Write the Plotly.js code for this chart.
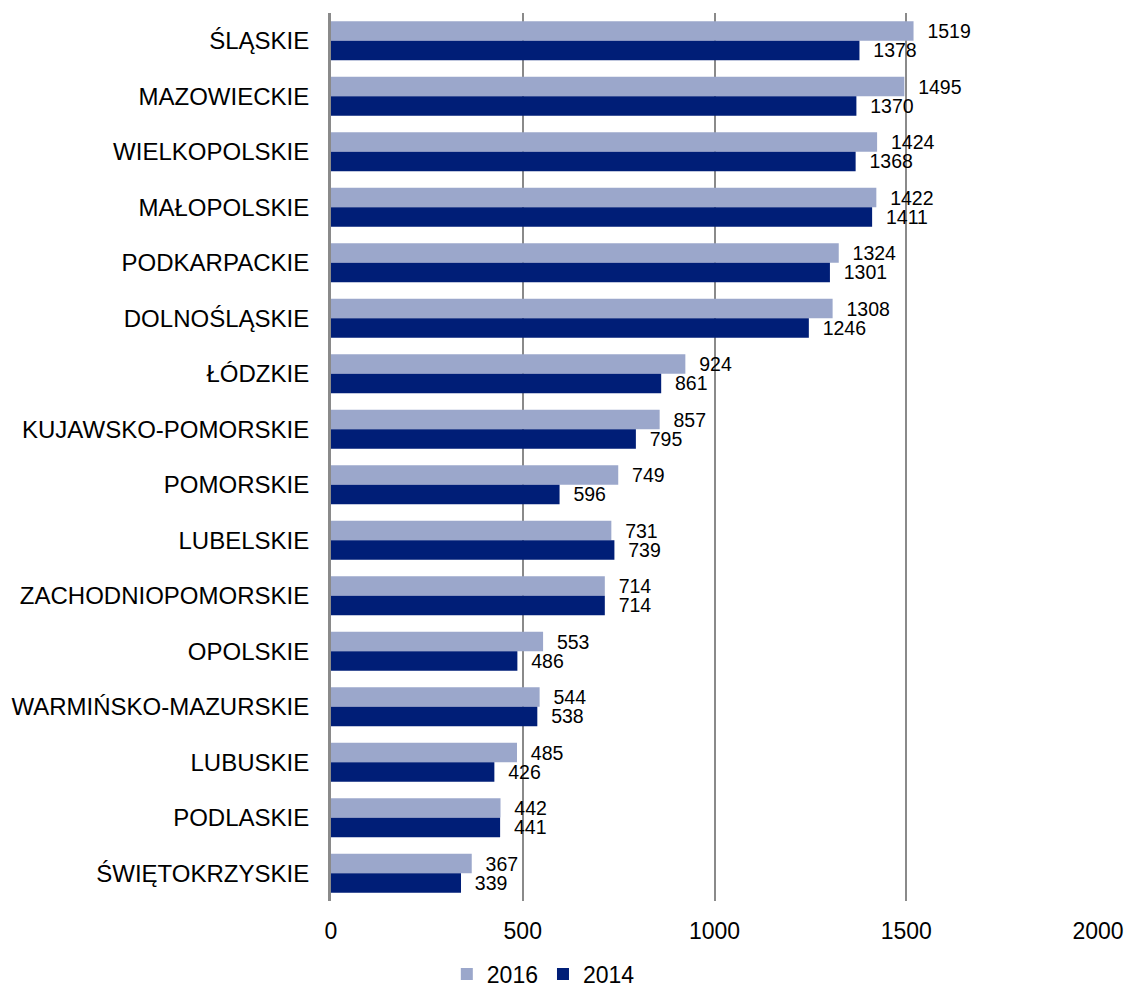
<!DOCTYPE html>
<html>
<head>
<meta charset="utf-8">
<script src="https://cdn.plot.ly/plotly-3.0.1.min.js"></script>
<style>html,body{margin:0;padding:0;background:#fff;}#chart{width:1126px;height:987px;}</style>
</head>
<body>
<div id="chart"></div>
<script>
const categories = ["ŚLĄSKIE","MAZOWIECKIE","WIELKOPOLSKIE","MAŁOPOLSKIE","PODKARPACKIE","DOLNOŚLĄSKIE","ŁÓDZKIE","KUJAWSKO-POMORSKIE","POMORSKIE","LUBELSKIE","ZACHODNIOPOMORSKIE","OPOLSKIE","WARMIŃSKO-MAZURSKIE","LUBUSKIE","PODLASKIE","ŚWIĘTOKRZYSKIE"];
const values2016 = [1519,1495,1424,1422,1324,1308,924,857,749,731,714,553,544,485,442,367];
const values2014 = [1378,1370,1368,1411,1301,1246,861,795,596,739,714,486,538,426,441,339];
const xTicks = [0,500,1000,1500,2000];

const FONT = "Liberation Sans, Arial, sans-serif";
const pad = "\u00a0\u00a0";

const traces = [
  {type:'bar', orientation:'h', name:'2016', y:categories, x:values2016,
   marker:{color:'#9BA7CB'}, text:values2016.map(v=>pad+v), textposition:'outside',
   constraintext:'none',
   textfont:{family:FONT,size:19.5,color:'#000'}, cliponaxis:false, hoverinfo:'x+y'},
  {type:'bar', orientation:'h', name:'2014', y:categories, x:values2014,
   marker:{color:'#001E77'}, text:values2014.map(v=>pad+v), textposition:'outside',
   constraintext:'none',
   textfont:{family:FONT,size:19.5,color:'#000'}, cliponaxis:false, hoverinfo:'x+y'}
];

const layout = {
  width:1126, height:987,
  margin:{l:331, r:28, t:13, b:86, autoexpand:false},
  paper_bgcolor:'#fff', plot_bgcolor:'#fff',
  font:{family:FONT, size:23, color:'#000'},
  barmode:'group', bargap:0.3, bargroupgap:0,
  showlegend:true,
  legend:{orientation:'h', x:0.151, xanchor:'left', yref:'container', y:0.013, yanchor:'middle',
          font:{family:FONT,size:23,color:'#000'}, traceorder:'normal'},
  xaxis:{range:[0,2000], tickvals:xTicks, ticktext:xTicks.map(String),
         showgrid:true, gridcolor:'#8a8a8a', gridwidth:2, zeroline:false,
         showline:false, ticks:'', ticklabelstandoff:14,
         tickfont:{family:FONT,size:23,color:'#000'}, fixedrange:true},
  yaxis:{type:'category', autorange:'reversed', showgrid:false, zeroline:false,
         showline:true, linecolor:'#8a8a8a', linewidth:3, ticks:'',
         ticklabelstandoff:14, tickfont:{family:FONT,size:24,color:'#000'}, fixedrange:true}
};

Plotly.newPlot('chart', traces, layout, {displayModeBar:false, staticPlot:true});
</script>
</body>
</html>
